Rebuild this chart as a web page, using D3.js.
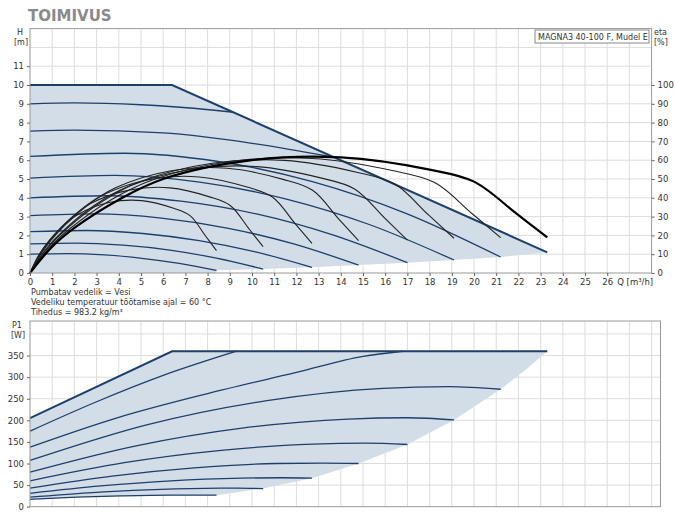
<!DOCTYPE html>
<html><head><meta charset="utf-8">
<script src="https://cdn.jsdelivr.net/npm/d3@7"></script>
<style>body{margin:0;background:#fff}text{font-family:"DejaVu Sans",sans-serif}</style>
</head><body><svg width="675" height="525"></svg>
<script>
// Q ticks and H / eta / P1 ticks
const qTicks = d3.range(0, 27);
const hTicks = d3.range(0, 12);
const etaTicks = d3.range(0, 101, 10);
const pTicks = d3.range(0, 351, 50);

// speed curves H(Q) [m³/h, m]
const hCurves = [
  [[0,9],[2,9.05],[5,8.95],[7.5,8.75],[9.15,8.55]],
  [[0,7.55],[2,7.6],[6,7.45],[10,6.9],[13.7,6.16]],
  [[0,6.2],[4.24,6.37],[8.48,5.93],[12.72,4.86],[16.96,3.16],[21.2,0.85]],
  [[0,5.05],[3.82,5.19],[7.64,4.83],[11.46,3.96],[15.28,2.58],[19.1,0.69]],
  [[0,4],[3.4,4.11],[6.8,3.82],[10.2,3.14],[13.6,2.04],[17,0.55]],
  [[0,3.05],[2.96,3.14],[5.92,2.92],[8.88,2.39],[11.84,1.56],[14.8,0.42]],
  [[0,2.2],[2.54,2.26],[5.08,2.1],[7.62,1.72],[10.16,1.12],[12.7,0.3]],
  [[0,1.55],[2.1,1.59],[4.2,1.48],[6.3,1.22],[8.4,0.79],[10.5,0.21]],
  [[0,1],[1.68,1.03],[3.36,0.96],[5.04,0.78],[6.72,0.51],[8.4,0.14]]
];
const hMax = [[0,10],[6.4,10],[23.3,1.1]];
const hEnds = [[23.3,1.1],[21.2,0.85],[19.1,0.69],[17,0.55],[14.8,0.42],[12.7,0.3],[10.5,0.21],[8.4,0.14],[8.4,0],[0,0]];

// efficiency curves eta(Q) [%]
const etaQ = [
  [0,.36,.72,1.43,2.18,3.61,5.04,6.47,7.22,7.9,8.4],
  [0,.45,.9,1.79,2.73,4.52,6.3,8.09,9.03,9.87,10.5],
  [0,.55,1.09,2.16,3.3,5.46,7.62,9.78,10.92,11.94,12.7],
  [0,.64,1.27,2.52,3.85,6.36,8.88,11.4,12.73,13.91,14.8],
  [0,.73,1.46,2.89,4.42,7.31,10.2,13.09,14.62,15.98,17],
  [0,.82,1.64,3.25,4.97,8.21,11.46,14.71,16.43,17.95,19.1],
  [0,.91,1.82,3.6,5.51,9.12,12.72,16.32,18.23,19.93,21.2]
];
const etaV = [
  [0,8.8,15,24.4,31.3,37.6,38.5,34.4,30.4,19.8,11.9],
  [0,10.3,17.7,28.7,36.9,44.2,45.3,40.5,35.8,23.4,14],
  [0,11.6,19.9,32.4,41.6,49.9,51.1,45.7,40.4,26.3,15.8],
  [0,12.7,21.7,35.3,45.3,54.4,55.7,49.8,44,28.7,17.2],
  [0,12.9,22.1,35.9,46,55.2,56.6,50.6,44.7,29.2,17.5],
  [0,13.6,23.4,38,48.7,58.4,59.9,53.6,47.3,30.9,18.5],
  [0,13.9,23.8,38.6,49.5,59.4,60.9,54.5,48.1,31.4,18.8]
];
const etaMaxQ = [0,1,2,4,6,10,14,18,20,21.9,23.3];
const etaMaxV = [0,14,24,39,50,60,61.5,55,48.6,31.7,19];

// power curves P1(Q) [W]
const pCurves = [
  [[0,175],[3,243],[6,304],[9.3,360]],
  [[0,138],[4,207],[8,262],[12,311],[15,348],[16.8,360]],
  [[0,107],[5.3,190],[10.6,245],[15.9,274],[18.87,278],[21.2,272]],
  [[0,80],[4.78,141],[9.55,182],[14.33,203],[17,206],[19.1,201]],
  [[0,60],[4.25,102],[8.5,130],[12.75,145],[15.13,147],[17,144]],
  [[0,43],[3.7,71],[7.4,90],[11.1,100],[13.17,101],[14.8,100]],
  [[0,31],[3.18,48],[6.35,60],[9.53,66],[11.3,67],[12.7,66]],
  [[0,22],[2.63,32],[5.25,39],[7.88,42.5],[9.35,43],[10.5,42]],
  [[0,17],[2.1,22],[4.2,25],[6.3,26.8],[7.48,27],[8.4,26.8]]
];
const pMax = [[0,205],[6.4,360],[23.3,360]];
const pEnds = [[23.3,360],[22.3,316],[21.2,272],[19.1,201],[17,144],[14.8,100],[12.7,66],[10.5,42],[8.4,26.8]];

const notes = ["Pumbatav vedelik = Vesi", "Vedeliku temperatuur töötamise ajal = 60 °C", "Tihedus = 983.2 kg/m³"];

const svg = d3.select('svg');
const navy = '#1d3f6b', fillC = '#d3dde8', gridC = '#dcdcdc';

svg.append('text').attr('x', 28).attr('y', 21).text('TOIMIVUS')
  .attr('font-size', 15).attr('font-weight', 'bold').attr('fill', '#8a8a8a');

// ---- top chart
const x = d3.scaleLinear().domain([0, 28]).range([30, 651.6]);
const y = d3.scaleLinear().domain([0, 13]).range([273, 28.6]);
const yEta = d3.scaleLinear().domain([0, 130]).range([273, 28.6]);

const gTop = svg.append('g');
gTop.append('g').selectAll('line').data(d3.range(1, 28)).join('line')
  .attr('x1', d => x(d)).attr('x2', d => x(d)).attr('y1', y(0)).attr('y2', y(13)).attr('stroke', gridC);
gTop.append('g').selectAll('line').data(d3.range(1, 13)).join('line')
  .attr('y1', d => y(d)).attr('y2', d => y(d)).attr('x1', x(0)).attr('x2', x(28)).attr('stroke', gridC);

const line = d3.line().x(d => x(d[0])).y(d => y(d[1]));
const smooth = d3.line().x(d => x(d[0])).y(d => y(d[1])).curve(d3.curveMonotoneX);

gTop.append('path').attr('d', line(hMax.concat(hEnds))).attr('fill', fillC);
hCurves.forEach(c => gTop.append('path').attr('d', smooth(c)).attr('fill', 'none').attr('stroke', navy).attr('stroke-width', 1.3));
gTop.append('path').attr('d', line(hMax)).attr('fill', 'none').attr('stroke', navy).attr('stroke-width', 2);

const etaLine = d3.line().x(d => x(d[0])).y(d => yEta(d[1])).curve(d3.curveCatmullRom);
etaQ.forEach((qs, i) => gTop.append('path').attr('d', etaLine(qs.map((q, j) => [q, etaV[i][j]])))
  .attr('fill', 'none').attr('stroke', '#222').attr('stroke-width', 1.1));
gTop.append('path').attr('d', etaLine(etaMaxQ.map((q, j) => [q, etaMaxV[j]])))
  .attr('fill', 'none').attr('stroke', '#000').attr('stroke-width', 2.2);

gTop.append('rect').attr('x', x(0)).attr('y', y(13)).attr('width', x(28) - x(0)).attr('height', y(0) - y(13))
  .attr('fill', 'none').attr('stroke', '#999');

const fs = 8.5;
gTop.append('g').attr('transform', `translate(0,${y(0)})`)
  .call(d3.axisBottom(x).tickValues(qTicks).tickSize(3).tickFormat(d3.format('d')))
  .call(g => g.select('.domain').remove());
gTop.append('g').attr('transform', `translate(${x(0)},0)`)
  .call(d3.axisLeft(y).tickValues(hTicks).tickSize(3))
  .call(g => g.select('.domain').remove());
gTop.append('g').attr('transform', `translate(${x(28)},0)`)
  .call(d3.axisRight(yEta).tickValues(etaTicks).tickSize(3))
  .call(g => g.select('.domain').remove());
gTop.selectAll('.tick text').attr('font-size', fs).attr('fill', '#333');
gTop.selectAll('.tick line').attr('stroke', '#666');

gTop.append('text').attr('x', x(26) + 10).attr('y', y(0) + 12).attr('font-size', fs).attr('fill', '#333').text('Q [m³/h]');
gTop.append('text').attr('x', 17).attr('y', 35).attr('font-size', 8).attr('fill', '#333').text('H');
gTop.append('text').attr('x', 14).attr('y', 45).attr('font-size', 8).attr('fill', '#333').text('[m]');
gTop.append('text').attr('x', 654).attr('y', 35).attr('font-size', 8).attr('fill', '#333').text('eta');
gTop.append('text').attr('x', 654).attr('y', 45).attr('font-size', 8).attr('fill', '#333').text('[%]');
gTop.append('rect').attr('x', 535).attr('y', 30).attr('width', 114).attr('height', 13).attr('fill', '#fff').attr('stroke', '#888');
gTop.append('text').attr('x', 538).attr('y', 40).attr('font-size', 8).attr('fill', '#333').text('MAGNA3 40-100 F, Mudel E');
gTop.selectAll('.note').data(notes).join('text').attr('class', 'note')
  .attr('x', 31).attr('y', (d, i) => 295 + i * 10).attr('font-size', 8).attr('fill', '#333').text(d => d);

// ---- bottom chart
const x2 = d3.scaleLinear().domain([0, 28.4]).range([30, 660.5]);
const yP = d3.scaleLinear().domain([0, 430]).range([506.7, 321]);
const bot = svg.append('g');
bot.append('g').selectAll('line').data(d3.range(1, 29)).join('line')
  .attr('x1', d => x2(d)).attr('x2', d => x2(d)).attr('y1', yP(0)).attr('y2', yP(430)).attr('stroke', gridC);
bot.append('g').selectAll('line').data(d3.range(50, 430, 50)).join('line')
  .attr('y1', d => yP(d)).attr('y2', d => yP(d)).attr('x1', x2(0)).attr('x2', x2(28.4)).attr('stroke', gridC);

const pLine = d3.line().x(d => x2(d[0])).y(d => yP(d[1]));
const pSmooth = d3.line().x(d => x2(d[0])).y(d => yP(d[1])).curve(d3.curveMonotoneX);
const lowest = pCurves[pCurves.length - 1].slice().reverse();
bot.append('path').attr('d', pLine(pMax.concat(pEnds, lowest))).attr('fill', fillC);
pCurves.forEach(c => bot.append('path').attr('d', pSmooth(c)).attr('fill', 'none').attr('stroke', navy).attr('stroke-width', 1.3));
bot.append('path').attr('d', pLine(pMax)).attr('fill', 'none').attr('stroke', navy).attr('stroke-width', 2);
bot.append('rect').attr('x', x2(0)).attr('y', yP(430)).attr('width', x2(28.4) - x2(0)).attr('height', yP(0) - yP(430))
  .attr('fill', 'none').attr('stroke', '#999');
bot.append('g').attr('transform', `translate(${x2(0)},0)`)
  .call(d3.axisLeft(yP).tickValues(pTicks).tickSize(3))
  .call(g => g.select('.domain').remove());
bot.selectAll('.tick text').attr('font-size', fs).attr('fill', '#333');
bot.selectAll('.tick line').attr('stroke', '#666');
bot.append('text').attr('x', 12).attr('y', 328).attr('font-size', 8).attr('fill', '#333').text('P1');
bot.append('text').attr('x', 11).attr('y', 338).attr('font-size', 8).attr('fill', '#333').text('[W]');
</script></body></html>
